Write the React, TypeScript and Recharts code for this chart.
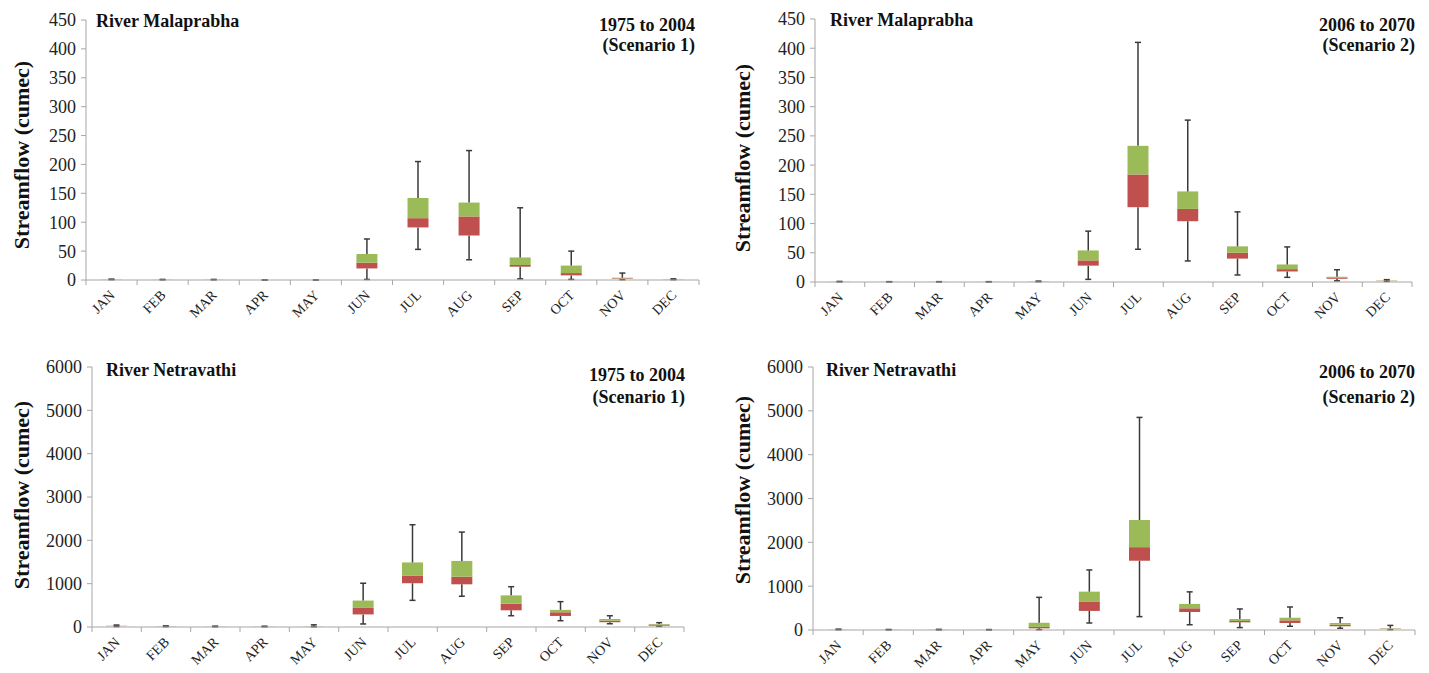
import { ComposedChart, Bar, XAxis, YAxis } from 'recharts';

const months = ['JAN', 'FEB', 'MAR', 'APR', 'MAY', 'JUN', 'JUL', 'AUG', 'SEP', 'OCT', 'NOV', 'DEC'];

// River Malaprabha, 1975 to 2004 (Scenario 1)
const malS1Min = [0.5, 0.3, 0.3, 0, 0, 1, 53, 35, 2, 1, 0.5, 0.5];
const malS1Q1 = [0.8, 0.5, 0.5, 0, 0, 20, 91, 77, 23, 8, 2, 1];
const malS1Med = [1, 0.6, 0.6, 0, 0, 30, 107, 110, 26, 12, 3, 1.2];
const malS1Q3 = [1.2, 0.8, 0.8, 0, 0, 45, 142, 134, 39, 25, 4, 1.5];
const malS1Max = [1.5, 1, 1, 0, 0, 71, 205, 224, 125, 50, 12, 2];

// River Malaprabha, 2006 to 2070 (Scenario 2)
const malS2Min = [0.3, 0.2, 0.2, 0.2, 0.5, 4.5, 56, 36, 12, 8, 2, 1];
const malS2Q1 = [0.5, 0.3, 0.3, 0.3, 0.8, 28, 128, 104, 40, 18, 5.5, 1.5];
const malS2Med = [0.6, 0.4, 0.4, 0.4, 1, 37, 184, 125, 50, 22, 7, 2];
const malS2Q3 = [0.8, 0.5, 0.5, 0.5, 1.2, 54, 233, 155, 61, 30, 9, 2.5];
const malS2Max = [1, 0.6, 0.6, 0.6, 1.5, 87, 410, 277, 120, 60, 21, 4];

// River Netravathi, 1975 to 2004 (Scenario 1)
const netS1Min = [10, 8, 5, 5, 5, 70, 615, 710, 260, 145, 75, 15];
const netS1Q1 = [20, 12, 8, 8, 10, 290, 1010, 985, 385, 255, 110, 30];
const netS1Med = [25, 15, 10, 10, 12, 440, 1180, 1160, 540, 340, 145, 55];
const netS1Q3 = [30, 18, 12, 12, 15, 610, 1490, 1525, 730, 395, 185, 70];
const netS1Max = [45, 25, 20, 18, 50, 1010, 2360, 2190, 930, 585, 260, 100];

// River Netravathi, 2006 to 2070 (Scenario 2)
const netS2Min = [5, 3, 3, 2, 8, 160, 305, 120, 55, 85, 40, 8];
const netS2Q1 = [8, 5, 5, 4, 38, 435, 1580, 410, 175, 160, 85, 22];
const netS2Med = [10, 7, 7, 5, 70, 640, 1890, 495, 205, 220, 120, 30];
const netS2Q3 = [12, 8, 9, 6, 165, 875, 2510, 595, 250, 280, 160, 38];
const netS2Max = [20, 12, 15, 10, 745, 1370, 4850, 870, 480, 525, 280, 105];

const malTicks = [0, 50, 100, 150, 200, 250, 300, 350, 400, 450];
const netTicks = [0, 1000, 2000, 3000, 4000, 5000, 6000];

const SERIF = "'Liberation Serif', 'Times New Roman', serif";
const AXIS = '#a6a6a6';
const WHISKER = '#3a3a3a';
const RED = '#c0504d';
const GREEN = '#9bbb59';

function buildRows(min: number[], q1: number[], med: number[], q3: number[], max: number[]) {
  return months.map((m, i) => ({
    month: m,
    base: min[i],
    lowWhisker: q1[i] - min[i],
    lowBox: med[i] - q1[i],
    highBox: q3[i] - med[i],
    highWhisker: max[i] - q3[i],
  }));
}

const hidden = () => <g />;

// whisker below the box, cap at the minimum
const lowWhisker = (p: any) => {
  const cx = p.x + p.width / 2;
  const y1 = p.y ?? 0;
  const y2 = y1 + (p.height ?? 0);
  return (
    <g>
      <line x1={cx} x2={cx} y1={y1} y2={y2} stroke={WHISKER} strokeWidth={1.5} />
      <line x1={cx - 3} x2={cx + 3} y1={y2} y2={y2} stroke={WHISKER} strokeWidth={1.5} />
    </g>
  );
};

// whisker above the box, cap at the maximum
const highWhisker = (p: any) => {
  const cx = p.x + p.width / 2;
  const y1 = p.y ?? 0;
  const y2 = y1 + (p.height ?? 0);
  return (
    <g>
      <line x1={cx} x2={cx} y1={y1} y2={y2} stroke={WHISKER} strokeWidth={1.5} />
      <line x1={cx - 3} x2={cx + 3} y1={y1} y2={y1} stroke={WHISKER} strokeWidth={1.5} />
    </g>
  );
};

function monthTick(axisY: number, band: number) {
  return function MonthTick(props: any) {
    const { x, index, payload } = props;
    const left = x - band / 2;
    const lx = x + 4;
    const ly = axisY + 16;
    return (
      <g>
        <line x1={left} x2={left} y1={axisY} y2={axisY + 5} stroke={AXIS} />
        {index === months.length - 1 && (
          <line x1={x + band / 2} x2={x + band / 2} y1={axisY} y2={axisY + 5} stroke={AXIS} />
        )}
        <text
          x={lx}
          y={ly}
          transform={`rotate(-45 ${lx} ${ly})`}
          textAnchor="end"
          fontSize={14}
          fill="#222"
          fontFamily={SERIF}
        >
          {payload.value}
        </text>
      </g>
    );
  };
}

interface PanelProps {
  left: number;
  top: number;
  width: number;
  height: number;
  plotLeft: number;
  plotRight: number;
  plotTop: number;
  plotBottom: number;
  rows: ReturnType<typeof buildRows>;
  ticks: number[];
  river: string;
  period: string;
  scenario: string;
  labelX: number;
  labelY: number;
  titleX: number;
  titleY: number;
  rightX: number;
  rightY1: number;
  rightY2: number;
}

function Panel(p: PanelProps) {
  const axisY = p.plotBottom - p.top;
  const band = (p.plotRight - p.plotLeft) / months.length;
  const Tick = monthTick(axisY, band);
  const yMax = p.ticks[p.ticks.length - 1];
  return (
    <div style={{ position: 'absolute', left: p.left, top: p.top, width: p.width, height: p.height }}>
      <ComposedChart
        width={p.width}
        height={p.height}
        data={p.rows}
        margin={{ top: p.plotTop - p.top, right: p.left + p.width - p.plotRight, left: 0, bottom: 0 }}
        barSize={21}
      >
        <XAxis
          dataKey="month"
          interval={0}
          height={p.top + p.height - p.plotBottom}
          axisLine={{ stroke: AXIS }}
          tickLine={false}
          tick={Tick}
        />
        <YAxis
          type="number"
          domain={[0, yMax]}
          ticks={p.ticks}
          interval={0}
          width={p.plotLeft - p.left}
          axisLine={{ stroke: AXIS }}
          tickLine={{ stroke: AXIS }}
          tickSize={5}
          tickMargin={5}
          tick={{ fontSize: 18, fill: '#222', fontFamily: SERIF }}
        />
        <Bar dataKey="base" stackId="s" shape={hidden} isAnimationActive={false} />
        <Bar dataKey="lowWhisker" stackId="s" shape={lowWhisker} isAnimationActive={false} />
        <Bar dataKey="lowBox" stackId="s" fill={RED} isAnimationActive={false} />
        <Bar dataKey="highBox" stackId="s" fill={GREEN} isAnimationActive={false} />
        <Bar dataKey="highWhisker" stackId="s" shape={highWhisker} isAnimationActive={false} />
      </ComposedChart>
      <svg
        width={p.width}
        height={p.height}
        style={{ position: 'absolute', left: 0, top: 0, pointerEvents: 'none' }}
        fontFamily={SERIF}
        fontWeight="bold"
        fill="#111"
      >
        <text
          transform={`translate(${p.labelX},${p.labelY}) rotate(-90)`}
          textAnchor="middle"
          dy="0.35em"
          fontSize={22}
        >
          Streamflow (cumec)
        </text>
        <text x={p.titleX} y={p.titleY} fontSize={18}>{p.river}</text>
        <text x={p.rightX} y={p.rightY1} fontSize={18} textAnchor="end">{p.period}</text>
        <text x={p.rightX} y={p.rightY2} fontSize={18} textAnchor="end">{p.scenario}</text>
      </svg>
    </div>
  );
}

export default function App() {
  return (
    <div style={{ position: 'absolute', left: 0, top: 0, width: 1429, height: 673, background: '#fff' }}>
      <Panel
        left={0} top={0} width={720} height={336}
        plotLeft={86} plotRight={699} plotTop={20} plotBottom={280}
        rows={buildRows(malS1Min, malS1Q1, malS1Med, malS1Q3, malS1Max)}
        ticks={malTicks}
        river="River Malaprabha" period="1975 to 2004" scenario="(Scenario 1)"
        labelX={21} labelY={155} titleX={96} titleY={27}
        rightX={695} rightY1={31} rightY2={51}
      />
      <Panel
        left={715} top={0} width={714} height={336}
        plotLeft={815} plotRight={1412} plotTop={19} plotBottom={282}
        rows={buildRows(malS2Min, malS2Q1, malS2Med, malS2Q3, malS2Max)}
        ticks={malTicks}
        river="River Malaprabha" period="2006 to 2070" scenario="(Scenario 2)"
        labelX={27} labelY={158} titleX={115} titleY={26}
        rightX={700} rightY1={31} rightY2={51}
      />
      <Panel
        left={0} top={336} width={720} height={337}
        plotLeft={92} plotRight={684} plotTop={367} plotBottom={627}
        rows={buildRows(netS1Min, netS1Q1, netS1Med, netS1Q3, netS1Max)}
        ticks={netTicks}
        river="River Netravathi" period="1975 to 2004" scenario="(Scenario 1)"
        labelX={21} labelY={159} titleX={106} titleY={40}
        rightX={685} rightY1={45} rightY2={67}
      />
      <Panel
        left={715} top={336} width={714} height={337}
        plotLeft={813} plotRight={1415} plotTop={367} plotBottom={630}
        rows={buildRows(netS2Min, netS2Q1, netS2Med, netS2Q3, netS2Max)}
        ticks={netTicks}
        river="River Netravathi" period="2006 to 2070" scenario="(Scenario 2)"
        labelX={27} labelY={154} titleX={111} titleY={40}
        rightX={700} rightY1={42} rightY2={67}
      />
    </div>
  );
}
